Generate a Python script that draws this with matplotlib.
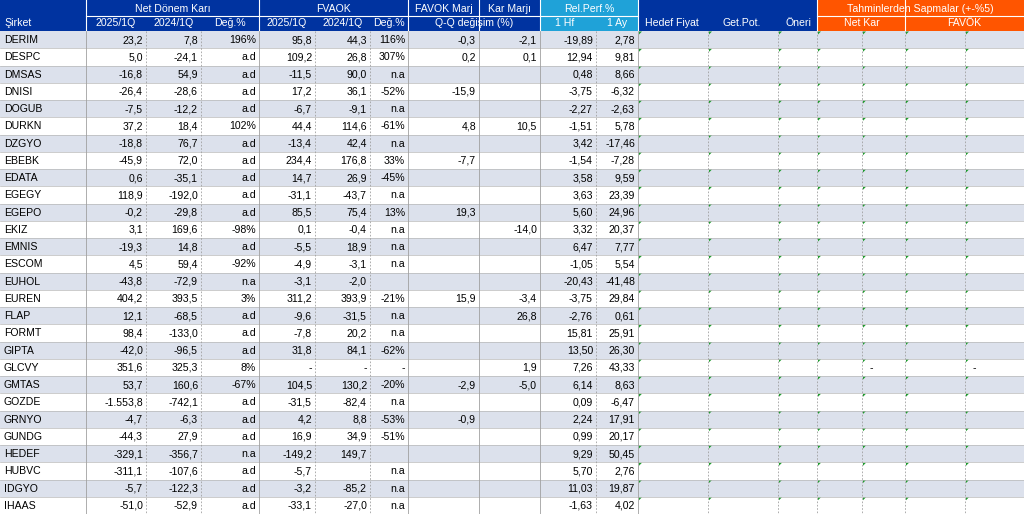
import matplotlib
matplotlib.use("Agg")
import matplotlib.pyplot as plt
from matplotlib.patches import Rectangle, Polygon

companies = ["DERIM","DESPC","DMSAS","DNISI","DOGUB","DURKN","DZGYO","EBEBK","EDATA","EGEGY","EGEPO","EKIZ","EMNIS","ESCOM","EUHOL","EUREN","FLAP","FORMT","GIPTA","GLCVY","GMTAS","GOZDE","GRNYO","GUNDG","HEDEF","HUBVC","IDGYO","IHAAS"]
np_2025 = ["23,2","5,0","-16,8","-26,4","-7,5","37,2","-18,8","-45,9","0,6","118,9","-0,2","3,1","-19,3","4,5","-43,8","404,2","12,1","98,4","-42,0","351,6","53,7","-1.553,8","-4,7","-44,3","-329,1","-311,1","-5,7","-51,0"]
np_2024 = ["7,8","-24,1","54,9","-28,6","-12,2","18,4","76,7","72,0","-35,1","-192,0","-29,8","169,6","14,8","59,4","-72,9","393,5","-68,5","-133,0","-96,5","325,3","160,6","-742,1","-6,3","27,9","-356,7","-107,6","-122,3","-52,9"]
np_deg = ["196%","a.d","a.d","a.d","a.d","102%","a.d","a.d","a.d","a.d","a.d","-98%","a.d","-92%","n.a","3%","a.d","a.d","a.d","8%","-67%","a.d","a.d","a.d","n.a","a.d","a.d","a.d"]
fv_2025 = ["95,8","109,2","-11,5","17,2","-6,7","44,4","-13,4","234,4","14,7","-31,1","85,5","0,1","-5,5","-4,9","-3,1","311,2","-9,6","-7,8","31,8","-","104,5","-31,5","4,2","16,9","-149,2","-5,7","-3,2","-33,1"]
fv_2024 = ["44,3","26,8","90,0","36,1","-9,1","114,6","42,4","176,8","26,9","-43,7","75,4","-0,4","18,9","-3,1","-2,0","393,9","-31,5","20,2","84,1","-","130,2","-82,4","8,8","34,9","149,7","","-85,2","-27,0"]
fv_deg = ["116%","307%","n.a","-52%","n.a","-61%","n.a","33%","-45%","n.a","13%","n.a","n.a","n.a","","-21%","n.a","n.a","-62%","-","-20%","n.a","-53%","-51%","","n.a","n.a","n.a"]
favok_marj = ["-0,3","0,2","","-15,9","","4,8","","-7,7","","","19,3","","","","","15,9","","","","","-2,9","","-0,9","","","","",""]
kar_marj = ["-2,1","0,1","","","","10,5","","","","","","-14,0","","","","-3,4","26,8","","","1,9","-5,0","","","","","","",""]
rel_1hf = ["-19,89","12,94","0,48","-3,75","-2,27","-1,51","3,42","-1,54","3,58","3,63","5,60","3,32","6,47","-1,05","-20,43","-3,75","-2,76","15,81","13,50","7,26","6,14","0,09","2,24","0,99","9,29","5,70","11,03","-1,63"]
rel_1ay = ["2,78","9,81","8,66","-6,32","-2,63","5,78","-17,46","-7,28","9,59","23,39","24,96","20,37","7,77","5,54","-41,48","29,84","0,61","25,91","26,30","43,33","8,63","-6,47","17,91","20,17","50,45","2,76","19,87","4,02"]
sap_netkar = [""] * 28
sap_favok = [""] * 28
sap_netkar[19] = "-"
sap_favok[19] = "-"

cols = [np_2025, np_2024, np_deg, fv_2025, fv_2024, fv_deg, favok_marj, kar_marj,
        rel_1hf, rel_1ay, [""]*28, [""]*28, [""]*28, [""]*28, sap_netkar, [""]*28, sap_favok]
edges = [0, 86, 146, 201, 259, 315, 370, 408, 479, 540, 596, 638, 708, 778, 817, 862, 905, 965, 1024]
aligns = ["right"]*10 + ["right"]*4 + ["left", "right", "left"]

W, H = 1024, 514
fig = plt.figure(figsize=(W/100, H/100), dpi=100)
ax = fig.add_axes([0, 0, 1, 1])
ax.set_xlim(0, W); ax.set_ylim(H, 0); ax.axis("off")
FONT = ["Liberation Sans", "DejaVu Sans"]
fs = 7.6

blue = "#0033A0"; lblue = "#1FA2D8"; orange = "#FF5500"
h1, h2 = 16, 31
def rect(x0, y0, x1, y1, c, ec="none", lw=0):
    ax.add_patch(Rectangle((x0, y0), x1-x0, y1-y0, fc=c, ec=ec, lw=lw))

rect(0, 0, 540, h2, blue)
rect(540, 0, 638, h2, lblue)
rect(638, 0, 817, h2, blue)
rect(817, 0, 1024, h2, orange)
def txt(x, y, s, ha="center", c="white"):
    ax.text(x, y, s, ha=ha, va="center", color=c, fontsize=fs, family=FONT)
# top header
for (a, b, s) in [(86, 259, "Net Dönem Karı"), (259, 408, "FVAOK"), (408, 479, "FAVOK Marj"),
                  (479, 540, "Kar Marjı"), (540, 638, "Rel.Perf.%"), (817, 1024, "Tahminlerden Sapmalar (+-%5)")]:
    txt((a+b)/2, h1/2+1, s)
# second header
txt(4, 23.5, "Şirket", ha="left")
sub = ["2025/1Q", "2024/1Q", "Değ.%", "2025/1Q", "2024/1Q", "Değ.%"]
for i, s in enumerate(sub):
    txt((edges[i+1]+edges[i+2])/2, 23.5, s)
txt((408+540)/2, 23.5, "Q-Q değişim (%)")
txt(565, 23.5, "1 Hf"); txt(617, 23.5, "1 Ay")
txt(672, 23.5, "Hedef Fiyat"); txt(742, 23.5, "Get.Pot."); txt(798, 23.5, "Öneri")
txt(862, 23.5, "Net Kar"); txt(964, 23.5, "FAVÖK")
# header separators
for x in [86, 259, 408, 479, 540, 638, 817, 905]:
    ax.plot([x, x], [0 if x not in (86,) else 0, h2], color="white", lw=0.8)
for (a, b) in [(86, 540), (540, 638), (817, 1024)]:
    ax.plot([a, b], [h1, h1], color="white", lw=0.8)

n = len(companies)
rh = (H - h2) / n
for r in range(n):
    y0 = h2 + r*rh
    yc = y0 + rh/2 + 0.5
    rect(0, y0, W, y0+rh, "#DCE1EC" if r % 2 == 0 else "white")
    ax.plot([0, W], [y0+rh, y0+rh], color="#B8B8B8", lw=0.5)
    ax.text(4, yc, companies[r], ha="left", va="center", fontsize=fs, family=FONT, color="black")
    for j, col in enumerate(cols):
        a, b = edges[j+1], edges[j+2]
        s = col[r]
        if s:
            if aligns[j] == "right":
                ax.text(b-3, yc, s, ha="right", va="center", fontsize=fs, family=FONT)
            else:
                ax.text(a+8, yc, s, ha="left", va="center", fontsize=fs, family=FONT)
    for x in [638, 708, 778, 817, 862, 905, 965]:
        ax.add_patch(Polygon([(x+1, y0+0.5), (x+4, y0+0.5), (x+1, y0+3.5)], closed=True, fc="#1E9B2E", ec="none"))
for x in edges[1:-1]:
    ls = "-" if x in (86, 259, 408, 479, 540, 638) else (0, (2, 2))
    ax.plot([x, x], [h2, H], color="#A0A0A0", lw=0.6, ls=ls)

fig.savefig("out.png", dpi=100)
